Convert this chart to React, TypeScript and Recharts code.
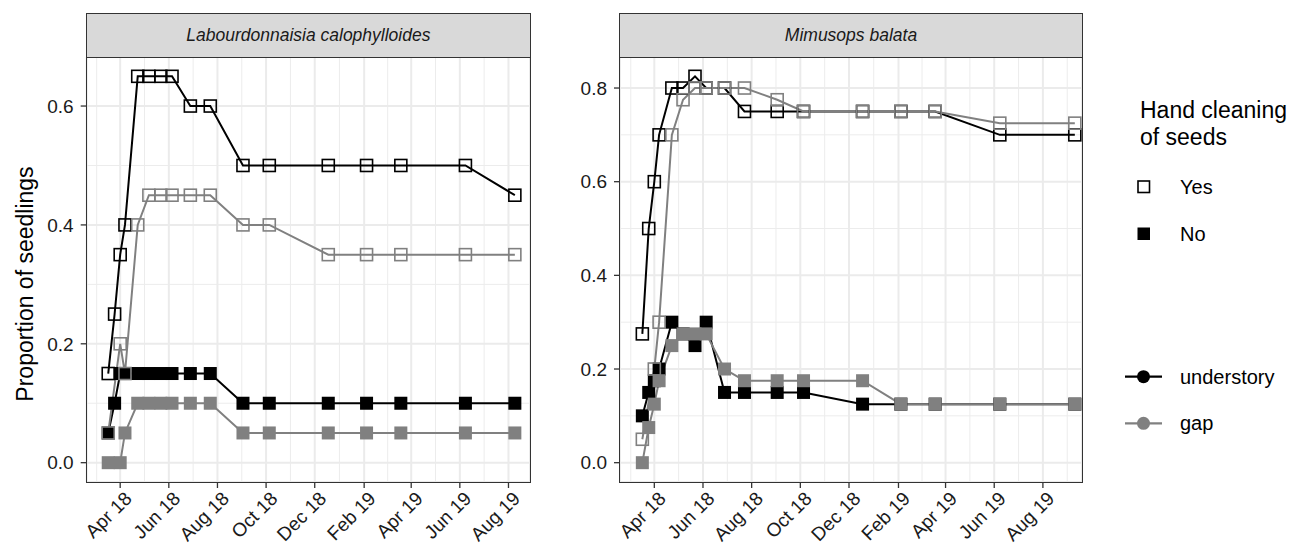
import React from 'react';
import { ScatterChart, Scatter, XAxis, YAxis, CartesianGrid } from 'recharts';

const FONT = '"Liberation Sans", Arial, Helvetica, sans-serif';
const BLACK = '#000000';
const GREY = '#808080';

// x values are days counted from 1 Apr 2018
const BASE = Date.UTC(2018, 3, 1);
const day = (s: string) => (Date.parse(s + 'T00:00:00Z') - BASE) / 86400000;

const majorDates = ['2018-04-01', '2018-06-01', '2018-08-01', '2018-10-01', '2018-12-01', '2019-02-01', '2019-04-01', '2019-06-01', '2019-08-01'];
const majorLabels = ['Apr 18', 'Jun 18', 'Aug 18', 'Oct 18', 'Dec 18', 'Feb 19', 'Apr 19', 'Jun 19', 'Aug 19'];
const outerDates = ['2018-02-01', '2019-10-01'];
const labDomainDates = ['2018-02-18', '2019-08-28'];
const mimDomainDates = ['2018-02-17', '2019-09-19'];

// Labourdonnaisia calophylloides
const labDates = ['2018-03-17', '2018-03-25', '2018-04-01', '2018-04-07', '2018-04-23', '2018-05-07', '2018-05-22', '2018-06-05', '2018-06-28', '2018-07-23', '2018-09-02', '2018-10-05', '2018-12-18', '2019-02-04', '2019-03-19', '2019-06-08', '2019-08-09'];
const labUnderYes = [0.15, 0.25, 0.35, 0.4, 0.65, 0.65, 0.65, 0.65, 0.6, 0.6, 0.5, 0.5, 0.5, 0.5, 0.5, 0.5, 0.45];
const labUnderNo = [0.05, 0.1, 0.15, 0.15, 0.15, 0.15, 0.15, 0.15, 0.15, 0.15, 0.1, 0.1, 0.1, 0.1, 0.1, 0.1, 0.1];
const labGapDates = ['2018-03-17', '2018-04-01', '2018-04-07', '2018-04-23', '2018-05-07', '2018-05-22', '2018-06-05', '2018-06-28', '2018-07-23', '2018-09-02', '2018-10-05', '2018-12-18', '2019-02-04', '2019-03-19', '2019-06-08', '2019-08-09'];
const labGapYes = [0.05, 0.2, 0.15, 0.4, 0.45, 0.45, 0.45, 0.45, 0.45, 0.4, 0.4, 0.35, 0.35, 0.35, 0.35, 0.35];
const labGapNo = [0, 0, 0.05, 0.1, 0.1, 0.1, 0.1, 0.1, 0.1, 0.05, 0.05, 0.05, 0.05, 0.05, 0.05, 0.05];

// Mimusops balata
const mimDates = ['2018-03-17', '2018-03-25', '2018-04-01', '2018-04-07', '2018-04-23', '2018-05-07', '2018-05-22', '2018-06-05', '2018-06-28', '2018-07-23', '2018-09-02', '2018-10-05', '2018-12-18', '2019-02-04', '2019-03-19', '2019-06-08', '2019-09-10'];
const mimUnderYes = [0.275, 0.5, 0.6, 0.7, 0.8, 0.8, 0.825, 0.8, 0.8, 0.75, 0.75, 0.75, 0.75, 0.75, 0.75, 0.7, 0.7];
const mimUnderNo = [0.1, 0.15, 0.175, 0.2, 0.3, 0.275, 0.25, 0.3, 0.15, 0.15, 0.15, 0.15, 0.125, 0.125, 0.125, 0.125, 0.125];
const mimGapYesDates = ['2018-03-17', '2018-04-01', '2018-04-07', '2018-04-23', '2018-05-07', '2018-05-22', '2018-06-05', '2018-06-28', '2018-07-23', '2018-09-02', '2018-10-05', '2018-12-18', '2019-02-04', '2019-03-19', '2019-06-08', '2019-09-10'];
const mimGapYes = [0.05, 0.2, 0.3, 0.7, 0.775, 0.8, 0.8, 0.8, 0.8, 0.775, 0.75, 0.75, 0.75, 0.75, 0.725, 0.725];
const mimGapNo = [0, 0.075, 0.125, 0.175, 0.25, 0.275, 0.275, 0.275, 0.2, 0.175, 0.175, 0.175, 0.175, 0.125, 0.125, 0.125, 0.125];

const labTicks = [0, 0.2, 0.4, 0.6];
const labMinor = [0.1, 0.3, 0.5];
const mimTicks = [0, 0.2, 0.4, 0.6, 0.8];
const mimMinor = [0.1, 0.3, 0.5, 0.7];

const toPts = (dates: string[], vals: number[]) => dates.map((d, i) => ({ x: day(d), y: vals[i] }));

const majorX = majorDates.map(day);
const allX = [day(outerDates[0]), ...majorX, day(outerDates[1])];
const minorX = allX.slice(1).map((v, i) => (v + allX[i]) / 2);

const labelFor = (v: number) => {
  const i = majorX.findIndex((m) => Math.abs(m - v) < 0.5);
  return i >= 0 ? majorLabels[i] : '';
};

const OpenSquare = (color: string) => (p: any) => (
  <rect x={p.cx - 6} y={p.cy - 6} width={12} height={12} fill="none" stroke={color} strokeWidth={1.6} />
);
const FilledSquare = (color: string) => (p: any) => (
  <rect x={p.cx - 6.5} y={p.cy - 6.5} width={13} height={13} fill={color} />
);
const NoShape = () => <g />;

const XTick = (p: any) => (
  <g transform={`translate(${p.x + 3},${p.y})`}>
    <text x={0} y={0} dy="0.72em" textAnchor="end" transform="rotate(-45)" fontSize={19} fill="#1a1a1a" fontFamily={FONT}>
      {labelFor(p.payload.value)}
    </text>
  </g>
);

interface Series {
  key: string;
  color: string;
  filled: boolean;
  data: { x: number; y: number }[];
}

interface PanelProps {
  title: string;
  left: number;
  width: number;
  yWidth: number;
  yMax: number;
  yTicks: number[];
  yMinor: number[];
  xDomain: number[];
  series: Series[];
}

const TOP = 57;
const BOTTOM = 482;
const H = 551;
const XH = 60;

const Panel: React.FC<PanelProps> = ({ title, left, width, yWidth, yMax, yTicks, yMinor, xDomain, series }) => {
  const plotLeft = left + yWidth;
  const plotW = width - yWidth - 10;
  const pad = yMax * 0.05;
  return (
    <>
      <div style={{ position: 'absolute', left, top: 0, width, height: H }}>
        <ScatterChart width={width} height={H} margin={{ top: TOP, right: 10, bottom: H - BOTTOM - XH, left: 0 }}>
          <CartesianGrid
            stroke="#ececec"
            strokeWidth={1}
            verticalCoordinatesGenerator={({ offset }: any) =>
              minorX
                .filter((v) => v > xDomain[0] && v < xDomain[1])
                .map((v) => offset.left + ((v - xDomain[0]) / (xDomain[1] - xDomain[0])) * offset.width)
            }
            horizontalCoordinatesGenerator={({ offset }: any) =>
              yMinor.map((v) => offset.top + offset.height - ((v + pad) / (yMax + 2 * pad)) * offset.height)
            }
          />
          <CartesianGrid stroke="#ebebeb" strokeWidth={2} />
          <XAxis
            type="number"
            dataKey="x"
            domain={xDomain}
            allowDataOverflow
            ticks={majorX}
            interval={0}
            height={XH}
            axisLine={false}
            tickLine={{ stroke: '#333', strokeWidth: 1.3 }}
            tickSize={6}
            tickMargin={2}
            tick={<XTick />}
          />
          <YAxis
            type="number"
            dataKey="y"
            domain={[-pad, yMax + pad]}
            allowDataOverflow
            ticks={yTicks}
            interval={0}
            width={yWidth}
            axisLine={false}
            tickLine={{ stroke: '#333', strokeWidth: 1.3 }}
            tickSize={6}
            tickMargin={7}
            tickFormatter={(v: number) => v.toFixed(1)}
            tick={{ fontSize: 19, fill: '#1a1a1a', fontFamily: FONT }}
          />
          {series.map((s) => (
            <Scatter
              key={s.key + '-line'}
              data={s.data}
              fill={s.color}
              line={{ stroke: s.color, strokeWidth: 2 }}
              lineType="joint"
              shape={NoShape}
              isAnimationActive={false}
            />
          ))}
          {series.map((s) => (
            <Scatter
              key={s.key + '-pts'}
              data={s.data}
              fill={s.color}
              shape={s.filled ? FilledSquare(s.color) : OpenSquare(s.color)}
              isAnimationActive={false}
            />
          ))}
        </ScatterChart>
      </div>
      <div
        style={{
          position: 'absolute',
          left: plotLeft - 0.7,
          top: TOP - 0.7,
          width: plotW + 1.4,
          height: BOTTOM - TOP + 1.4,
          border: '1.4px solid #333',
          boxSizing: 'border-box',
          pointerEvents: 'none',
        }}
      />
      <div
        style={{
          position: 'absolute',
          left: plotLeft - 0.7,
          top: 13.3,
          width: plotW + 1.4,
          height: TOP - 13.3 + 0.7,
          border: '1.4px solid #333',
          boxSizing: 'border-box',
          background: '#d9d9d9',
          display: 'flex',
          alignItems: 'center',
          justifyContent: 'center',
          fontStyle: 'italic',
          fontSize: 17.5,
          color: '#1a1a1a',
          fontFamily: FONT,
        }}
      >
        {title}
      </div>
    </>
  );
};

const Legend: React.FC = () => (
  <svg style={{ position: 'absolute', left: 0, top: 0 }} width={1293} height={551}>
    <g fontFamily={FONT} fill="#000">
      <text x={1140} y={118} fontSize={23}>Hand cleaning</text>
      <text x={1140} y={145} fontSize={23}>of seeds</text>
      <rect x={1138} y={181} width={11.5} height={11.5} fill="none" stroke="#000" strokeWidth={1.6} />
      <text x={1180} y={187} fontSize={20} dominantBaseline="central">Yes</text>
      <rect x={1137.5} y={227.5} width={12.5} height={12.5} fill="#000" />
      <text x={1180} y={234} fontSize={20} dominantBaseline="central">No</text>
      <line x1={1125} y1={376.7} x2={1162} y2={376.7} stroke={BLACK} strokeWidth={2.2} />
      <circle cx={1143.5} cy={376.7} r={6.5} fill={BLACK} />
      <text x={1180} y={376.7} fontSize={20} dominantBaseline="central">understory</text>
      <line x1={1125} y1={423.3} x2={1162} y2={423.3} stroke={GREY} strokeWidth={2.2} />
      <circle cx={1143.5} cy={423.3} r={6.5} fill={GREY} />
      <text x={1180} y={423.3} fontSize={20} dominantBaseline="central">gap</text>
    </g>
  </svg>
);

const App: React.FC = () => {
  const labSeries: Series[] = [
    { key: 'uy', color: BLACK, filled: false, data: toPts(labDates, labUnderYes) },
    { key: 'un', color: BLACK, filled: true, data: toPts(labDates, labUnderNo) },
    { key: 'gy', color: GREY, filled: false, data: toPts(labGapDates, labGapYes) },
    { key: 'gn', color: GREY, filled: true, data: toPts(labGapDates, labGapNo) },
  ];
  const mimSeries: Series[] = [
    { key: 'uy', color: BLACK, filled: false, data: toPts(mimDates, mimUnderYes) },
    { key: 'un', color: BLACK, filled: true, data: toPts(mimDates, mimUnderNo) },
    { key: 'gy', color: GREY, filled: false, data: toPts(mimGapYesDates, mimGapYes) },
    { key: 'gn', color: GREY, filled: true, data: toPts(mimDates, mimGapNo) },
  ];
  return (
    <div style={{ position: 'absolute', left: 0, top: 0, width: 1293, height: 551, background: '#fff', fontFamily: FONT }}>
      <div
        style={{
          position: 'absolute',
          left: 25,
          top: 284,
          transform: 'translate(-50%, -50%) rotate(-90deg)',
          whiteSpace: 'nowrap',
          fontSize: 23,
          color: '#000',
        }}
      >
        Proportion of seedlings
      </div>
      <Panel title="Labourdonnaisia calophylloides" left={0} width={540} yWidth={86.7} yMax={0.65} yTicks={labTicks} yMinor={labMinor} xDomain={labDomainDates.map(day)} series={labSeries} />
      <Panel title="Mimusops balata" left={540} width={552} yWidth={80} yMax={0.825} yTicks={mimTicks} yMinor={mimMinor} xDomain={mimDomainDates.map(day)} series={mimSeries} />
      <Legend />
    </div>
  );
};

export default App;
